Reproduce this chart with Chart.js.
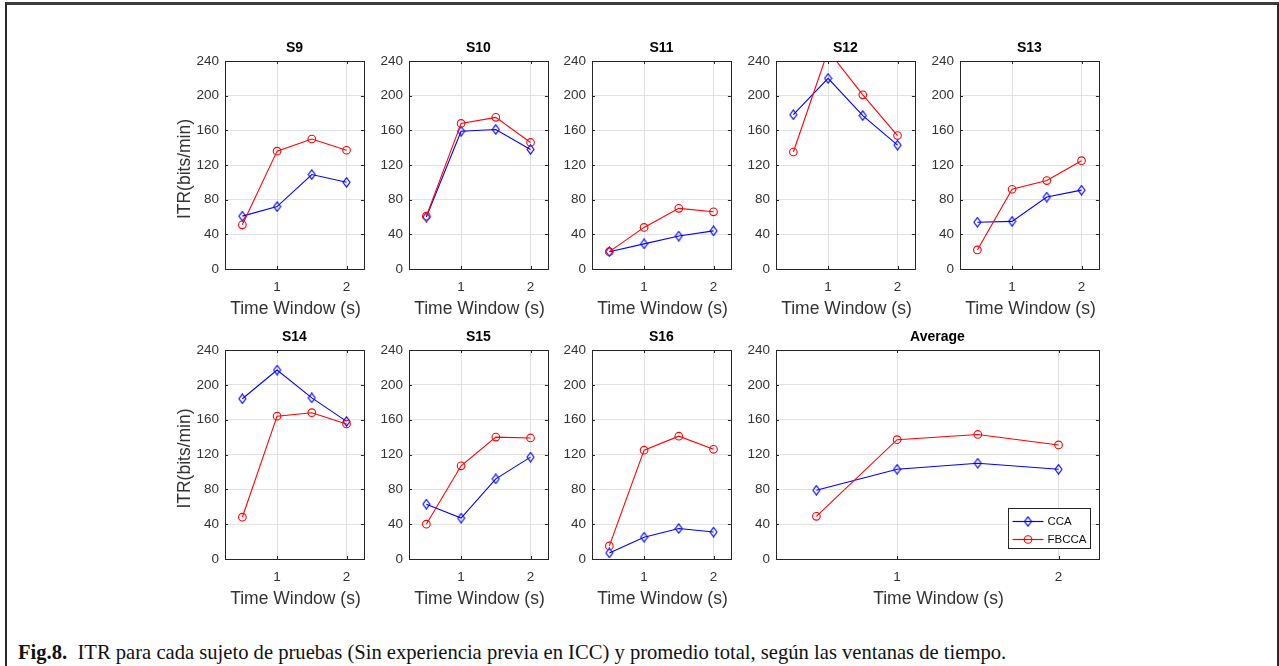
<!DOCTYPE html>
<html><head><meta charset="utf-8">
<script src="https://cdn.jsdelivr.net/npm/chart.js@4.4.1/dist/chart.umd.min.js"></script>
<style>
html,body{margin:0;padding:0;background:#fff;}
body{width:1279px;height:666px;position:relative;overflow:hidden;}
#frame{position:absolute;left:5px;top:2px;width:1270px;height:720px;border-top:3px solid #3c3c3c;border-left:2px solid #2a2a2a;border-right:2px solid #2a2a2a;}
canvas{position:absolute;}
#cap{position:absolute;left:18px;top:639px;font-family:"Liberation Serif","Times New Roman",serif;font-size:20.6px;line-height:26px;color:#111;white-space:nowrap;}
</style></head><body>
<div id="frame"></div>
<div id="cap"><b>Fig.8.</b>&nbsp; ITR para cada sujeto de pruebas (Sin experiencia previa en ICC) y promedio total, según las ventanas de tiempo.</div>
<script>
// ---- data ----
const timeWindows = [0.5, 1, 1.5, 2];
const xTickValues = [1, 2];
const yTickValues = [0, 40, 80, 120, 160, 200, 240];
const panelTitles = ['S9','S10','S11','S12','S13','S14','S15','S16','Average'];
const seriesNames = ['CCA','FBCCA'];

const cca_S9   = [61, 72, 109, 100];
const fbcca_S9 = [51, 136, 150, 137];
const cca_S10   = [60, 159, 161, 138];
const fbcca_S10 = [61, 168, 175, 146];
const cca_S11   = [20, 29, 38, 44];
const fbcca_S11 = [20, 48, 70, 66];
const cca_S12   = [178, 220, 177, 143];
const fbcca_S12 = [135, 252, 201, 154];
const cca_S13   = [54, 55, 83, 91];
const fbcca_S13 = [22, 92, 102, 125];
const cca_S14   = [184, 217, 185, 158];
const fbcca_S14 = [48, 164, 168, 155];
const cca_S15   = [63, 47, 92, 117];
const fbcca_S15 = [40, 107, 140, 139];
const cca_S16   = [7, 25, 35, 31];
const fbcca_S16 = [15, 125, 141, 126];
const cca_Avg   = [79, 103, 110, 103];
const fbcca_Avg = [49, 137, 143, 131];

const ccaAll = [cca_S9,cca_S10,cca_S11,cca_S12,cca_S13,cca_S14,cca_S15,cca_S16,cca_Avg];
const fbccaAll = [fbcca_S9,fbcca_S10,fbcca_S11,fbcca_S12,fbcca_S13,fbcca_S14,fbcca_S15,fbcca_S16,fbcca_Avg];

// ---- layout (plot boxes) ----
const boxes = [
  {x:225,y:61,w:139,h:208},{x:409,y:61,w:139,h:208},{x:592,y:61,w:139,h:208},{x:776,y:61,w:139,h:208},{x:960,y:61,w:139,h:208},
  {x:225,y:350,w:139,h:209},{x:409,y:350,w:139,h:209},{x:592,y:350,w:139,h:209},{x:776,y:350,w:323,h:209}
];
const showYLabel = [true,false,false,false,false,true,false,false,false];
const showLegend = [false,false,false,false,false,false,false,false,true];

const BLUE='#0000ff', RED='#ff0000', AX='#262626', TXT='#333333';
const SANS='"Liberation Sans", Arial, Helvetica, sans-serif';

function diamondImg(color){
  const c=document.createElement('canvas'); c.width=9; c.height=11;
  const g=c.getContext('2d'); g.strokeStyle=color; g.lineWidth=1.1;
  g.beginPath(); g.moveTo(4.5,0.8); g.lineTo(8,5.5); g.lineTo(4.5,10.2); g.lineTo(1,5.5); g.closePath(); g.stroke();
  return c;
}
const diamond = diamondImg(BLUE);

const framePlugin = {
  id:'framePlugin',
  afterDraw(chart, args, opts){
    const g=chart.ctx, a=chart.chartArea;
    g.save();
    g.strokeStyle=AX; g.lineWidth=1;
    g.strokeRect(Math.round(a.left)+0.5, Math.round(a.top)+0.5, Math.round(a.right-a.left), Math.round(a.bottom-a.top));
    const xs=chart.scales.x, ys=chart.scales.y, tl=3;
    g.beginPath();
    xs.ticks.forEach(t=>{const px=Math.round(xs.getPixelForValue(t.value))+0.5;
      g.moveTo(px,a.bottom); g.lineTo(px,a.bottom-tl); g.moveTo(px,a.top); g.lineTo(px,a.top+tl);});
    ys.ticks.forEach(t=>{const py=Math.round(ys.getPixelForValue(t.value))+0.5;
      g.moveTo(a.left,py); g.lineTo(a.left+tl,py); g.moveTo(a.right,py); g.lineTo(a.right-tl,py);});
    g.stroke();
    g.fillStyle='#000'; g.font='bold 14px '+SANS; g.textAlign='center'; g.textBaseline='middle';
    g.fillText(opts.title,(a.left+a.right)/2,a.top-13);
    g.fillStyle=TXT; g.font='17.5px '+SANS;
    g.fillText('Time Window (s)',(a.left+a.right)/2+1,a.bottom+40);
    if(opts.yLabel){
      g.save(); g.translate(a.left-40,(a.top+a.bottom)/2+4); g.rotate(-Math.PI/2);
      g.fillText('ITR(bits/min)',0,0); g.restore();
    }
    if(opts.legend){
      const bw=82,bh=40, bx=Math.round(a.right-9-bw)+0.5, by=Math.round(a.bottom-11-bh)+0.5;
      g.fillStyle='#fff'; g.fillRect(bx,by,bw,bh);
      g.strokeStyle=AX; g.lineWidth=1; g.strokeRect(bx,by,bw,bh);
      const rows=[{c:BLUE,y:by+13},{c:RED,y:by+31}];
      rows.forEach((r,i)=>{
        g.strokeStyle=r.c; g.lineWidth=1.2; g.beginPath(); g.moveTo(bx+4,r.y); g.lineTo(bx+35,r.y); g.stroke();
        if(i===0){ g.drawImage(diamond,bx+19.5-4.5,r.y-5.5); }
        else { g.lineWidth=1.1; g.beginPath(); g.arc(bx+19.5,r.y,3.8,0,Math.PI*2); g.stroke(); }
        g.fillStyle='#111'; g.font='11.5px '+SANS; g.textAlign='left'; g.textBaseline='middle';
        g.fillText(seriesNames[i],bx+39,r.y+0.5);
      });
    }
    g.restore();
  }
};

const W=50, PR=5, PT=31, H=58;
panelTitles.forEach((title,k)=>{
  const b=boxes[k];
  const c=document.createElement('canvas');
  const cw=W+b.w+PR, ch=PT+b.h+H;
  c.width=cw; c.height=ch;
  c.style.left=(b.x-W)+'px'; c.style.top=(b.y-PT)+'px';
  c.style.width=cw+'px'; c.style.height=ch+'px';
  document.body.appendChild(c);
  new Chart(c,{
    type:'line',
    data:{datasets:[
      {label:seriesNames[0], data:timeWindows.map((x,i)=>({x,y:ccaAll[k][i]})), borderColor:BLUE, backgroundColor:'rgba(0,0,0,0)',
       borderWidth:1.1, pointStyle:diamond, pointRadius:4, pointBorderColor:BLUE, pointBackgroundColor:'rgba(0,0,0,0)', tension:0, order:1, clip:0},
      {label:seriesNames[1], data:timeWindows.map((x,i)=>({x,y:fbccaAll[k][i]})), borderColor:RED, backgroundColor:'rgba(0,0,0,0)',
       borderWidth:1.1, pointStyle:'circle', pointRadius:3.8, pointBorderWidth:1.1, pointBorderColor:RED, pointBackgroundColor:'rgba(0,0,0,0)', tension:0, order:0, clip:0}
    ]},
    options:{
      responsive:false, animation:false, devicePixelRatio:1,
      layout:{padding:{top:PT,left:0,right:PR,bottom:0}},
      plugins:{legend:{display:false}, tooltip:{enabled:false},
        framePlugin:{title, yLabel:showYLabel[k], legend:showLegend[k]}},
      scales:{
        x:{type:'linear', min:0.25, max:2.25,
           afterBuildTicks:(s)=>{s.ticks=xTickValues.map(v=>({value:v}));},
           afterFit:(s)=>{s.height=H;},
           ticks:{color:TXT, font:{family:SANS,size:13.5}, padding:10, maxRotation:0, autoSkip:false, callback:(v)=>String(v)},
           grid:{color:'#e2e2e2', drawTicks:false, lineWidth:1},
           border:{display:false}},
        y:{type:'linear', min:0, max:240,
           afterBuildTicks:(s)=>{s.ticks=yTickValues.map(v=>({value:v}));},
           afterFit:(s)=>{s.width=W;},
           ticks:{color:TXT, font:{family:SANS,size:13.5}, padding:6, autoSkip:false, callback:(v)=>String(v)},
           grid:{color:'#e2e2e2', drawTicks:false, lineWidth:1},
           border:{display:false}}
      }
    },
    plugins:[framePlugin]
  });
});
</script>
</body></html>
